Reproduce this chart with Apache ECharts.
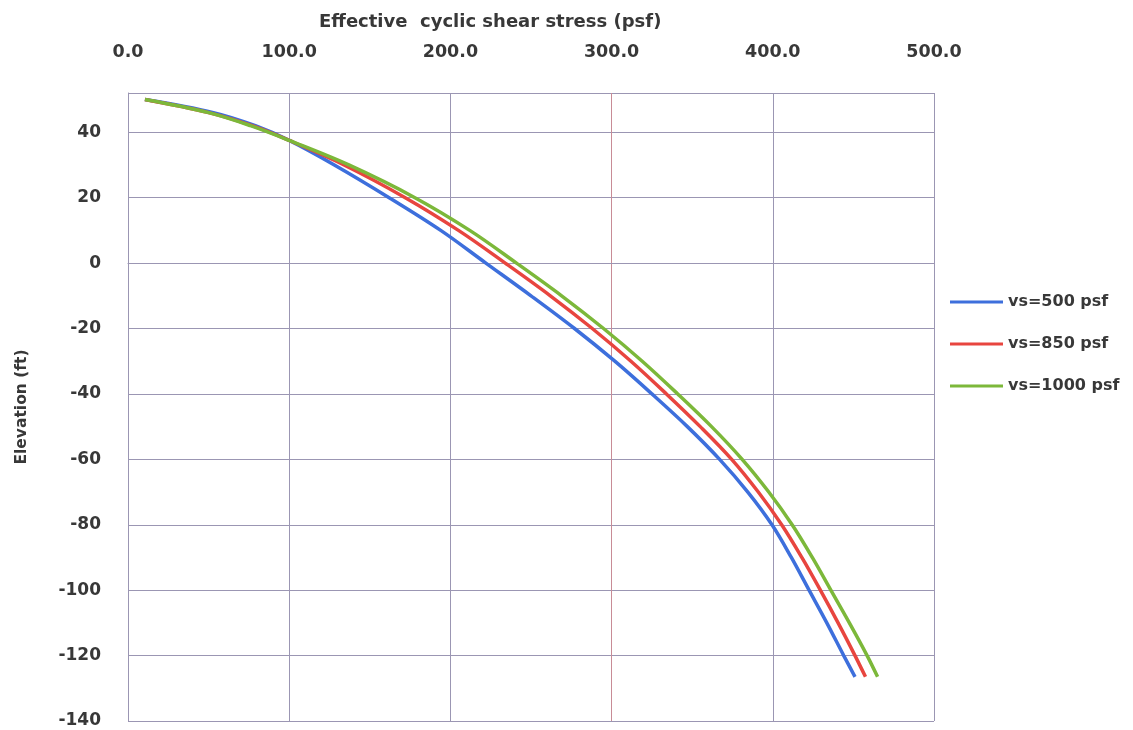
<!DOCTYPE html>
<html>
<head>
<meta charset="utf-8">
<title>Effective cyclic shear stress</title>
<script src="https://cdn.jsdelivr.net/npm/echarts@6/dist/echarts.min.js"></script>
<style>
  html, body { margin: 0; padding: 0; background: #ffffff; }
  #chart { width: 1133px; height: 730px; }
</style>
</head>
<body>
<div id="chart"></div>
<script>
// Elevation (ft) of each profile point, shared by all three curves
const elevations = [50, 46, 42, 37.5, 30, 20, 10, 0, -10, -20, -30, -40, -50, -60, -70, -80, -90, -100, -110, -120, -126.5];

// Effective cyclic shear stress (psf) at each elevation
const stressVs500  = [10.5, 53, 79, 100, 128, 162, 194, 222, 250, 277, 302, 325, 347, 367, 384.5, 399.5, 411.5, 422.5, 433.5, 444, 451];
const stressVs850  = [10.5, 50, 77, 100, 134, 172, 205, 234, 262, 288, 312, 334, 355, 374.5, 391, 405.5, 418, 429.5, 440.5, 451, 457.5];
const stressVs1000 = [10.5, 50, 76, 100, 137, 178, 212, 241, 269, 295, 319, 341, 362, 381, 397.5, 412, 424.5, 436, 447.5, 458.5, 465];

const seriesNames = ['vs=500 psf', 'vs=850 psf', 'vs=1000 psf'];
const seriesColors = ['#3d6fdc', '#e8453f', '#7cb83a'];

const xTicks = [0, 100, 200, 300, 400, 500];
const yTicks = [40, 20, 0, -20, -40, -60, -80, -100, -120, -140];

const textColor = '#383838';
const gridColor = '#9b96b3';
const font = 'DejaVu Sans';

function pairs(stress) {
  return stress.map((s, i) => [s, elevations[i]]);
}

const chart = echarts.init(document.getElementById('chart'), null, { renderer: 'canvas' });

chart.setOption({
  backgroundColor: '#ffffff',
  animation: false,
  title: {
    text: 'Effective  cyclic shear stress (psf)',
    left: 314,
    top: 8,
    textStyle: { fontFamily: font, fontWeight: 'bold', fontSize: 18, color: textColor }
  },
  legend: {
    orient: 'vertical',
    left: 950,
    top: 294,
    padding: 0,
    icon: 'rect',
    itemWidth: 53,
    itemHeight: 3,
    itemGap: 26,
    data: seriesNames,
    textStyle: { fontFamily: font, fontWeight: 'bold', fontSize: 16, color: textColor }
  },
  grid: {
    left: 128,
    right: 199,
    top: 93,
    bottom: 9,
    containLabel: false
  },
  xAxis: {
    type: 'value',
    position: 'top',
    min: xTicks[0],
    max: xTicks[xTicks.length - 1],
    interval: 100,
    axisLine: { show: true, lineStyle: { color: gridColor, width: 1 } },
    axisTick: { show: false },
    axisLabel: {
      margin: 32,
      fontFamily: font,
      fontWeight: 'bold',
      fontSize: 17.5,
      color: textColor,
      formatter: v => v.toFixed(1)
    },
    splitLine: {
      show: true,
      lineStyle: { color: [gridColor, gridColor, gridColor, '#c88c96', gridColor, gridColor], width: 1 }
    }
  },
  yAxis: {
    type: 'value',
    min: yTicks[yTicks.length - 1],
    max: 52,
    interval: 20,
    axisLine: { show: true, lineStyle: { color: gridColor, width: 1 } },
    axisTick: { show: false },
    axisLabel: {
      margin: 27,
      showMaxLabel: false,
      fontFamily: font,
      fontWeight: 'bold',
      fontSize: 17,
      color: textColor,
      formatter: v => (yTicks.indexOf(v) >= 0 ? String(v) : '')
    },
    splitLine: { show: true, lineStyle: { color: gridColor, width: 1 } },
    name: 'Elevation (ft)',
    nameLocation: 'middle',
    nameGap: 98,
    nameTextStyle: { fontFamily: font, fontWeight: 'bold', fontSize: 15.5, color: textColor }
  },
  series: [stressVs500, stressVs850, stressVs1000].map((s, i) => ({
    name: seriesNames[i],
    type: 'line',
    data: pairs(s),
    smooth: 0.35,
    symbol: 'none',
    lineStyle: { color: seriesColors[i], width: 3.5 },
    itemStyle: { color: seriesColors[i] },
    z: 3 + i
  }))
});
</script>
</body>
</html>
